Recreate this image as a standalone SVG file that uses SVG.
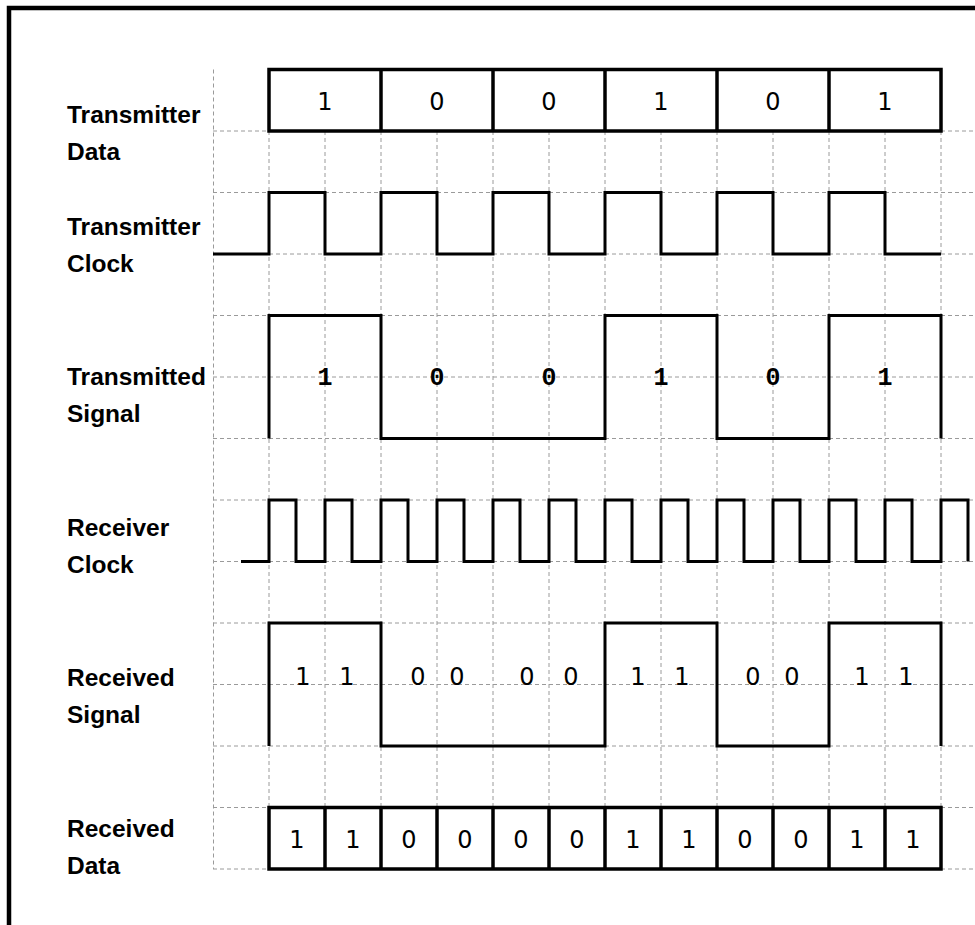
<svg xmlns="http://www.w3.org/2000/svg" width="975" height="925" viewBox="0 0 975 925">
<style>
.grid line{stroke:#9a9a9a;stroke-width:1;stroke-dasharray:4 3;fill:none}
.wave{fill:none;stroke:#000;stroke-width:3;stroke-linejoin:miter;stroke-linecap:butt}
.box{fill:#fff;stroke:#000;stroke-width:3.5}
.div{stroke:#000;stroke-width:3.5}
.lbl{font-family:"Liberation Sans",Arial,sans-serif;font-weight:bold;font-size:24.5px;fill:#000}
.dig{font-family:"DejaVu Sans","Liberation Sans",sans-serif;font-size:24px;fill:#000;text-anchor:middle}
.sdig{font-family:"Liberation Mono","Courier New",monospace;font-weight:bold;font-size:25px;fill:#000;text-anchor:middle}
</style>
<rect width="975" height="925" fill="#fff"/>
<g id="frame"><path d="M9,925 V8 H975" fill="none" stroke="#000" stroke-width="4.5"/></g>
<g id="grid" class="grid">
<line x1="213" y1="131" x2="975" y2="131"/>
<line x1="213" y1="192.5" x2="975" y2="192.5"/>
<line x1="213" y1="254" x2="975" y2="254"/>
<line x1="213" y1="315.5" x2="975" y2="315.5"/>
<line x1="213" y1="377" x2="975" y2="377"/>
<line x1="213" y1="438.5" x2="975" y2="438.5"/>
<line x1="213" y1="500" x2="975" y2="500"/>
<line x1="213" y1="561.5" x2="975" y2="561.5"/>
<line x1="213" y1="623" x2="975" y2="623"/>
<line x1="213" y1="684.5" x2="975" y2="684.5"/>
<line x1="213" y1="746" x2="975" y2="746"/>
<line x1="213" y1="807.5" x2="975" y2="807.5"/>
<line x1="213" y1="869" x2="975" y2="869"/>
<line x1="213.5" y1="69.5" x2="213.5" y2="869"/>
<line x1="269" y1="131" x2="269" y2="807.5"/>
<line x1="325" y1="131" x2="325" y2="807.5"/>
<line x1="381" y1="131" x2="381" y2="807.5"/>
<line x1="437" y1="131" x2="437" y2="807.5"/>
<line x1="493" y1="131" x2="493" y2="807.5"/>
<line x1="549" y1="131" x2="549" y2="807.5"/>
<line x1="605" y1="131" x2="605" y2="807.5"/>
<line x1="661" y1="131" x2="661" y2="807.5"/>
<line x1="717" y1="131" x2="717" y2="807.5"/>
<line x1="773" y1="131" x2="773" y2="807.5"/>
<line x1="829" y1="131" x2="829" y2="807.5"/>
<line x1="885" y1="131" x2="885" y2="807.5"/>
<line x1="941" y1="131" x2="941" y2="807.5"/>
</g>
<g id="connectors"></g>
<g id="transmitter-data">
<text class="lbl" x="67" y="123">Transmitter</text>
<text class="lbl" x="67" y="160">Data</text>
<rect class="box" x="269" y="69.5" width="672" height="61.5"/>
<line class="div" x1="381" y1="69.5" x2="381" y2="131"/>
<line class="div" x1="493" y1="69.5" x2="493" y2="131"/>
<line class="div" x1="605" y1="69.5" x2="605" y2="131"/>
<line class="div" x1="717" y1="69.5" x2="717" y2="131"/>
<line class="div" x1="829" y1="69.5" x2="829" y2="131"/>
<text class="dig" x="325" y="110">1</text>
<text class="dig" x="437" y="110">0</text>
<text class="dig" x="549" y="110">0</text>
<text class="dig" x="661" y="110">1</text>
<text class="dig" x="773" y="110">0</text>
<text class="dig" x="885" y="110">1</text>
</g>
<g id="transmitter-clock">
<text class="lbl" x="67" y="235">Transmitter</text>
<text class="lbl" x="67" y="272">Clock</text>
<path class="wave" d="M213,254 H269 V192.5 H325 V254 H381 V192.5 H437 V254 H493 V192.5 H549 V254 H605 V192.5 H661 V254 H717 V192.5 H773 V254 H829 V192.5 H885 V254 H941"/>
</g>
<g id="transmitted-signal">
<text class="lbl" x="67" y="385">Transmitted</text>
<text class="lbl" x="67" y="422">Signal</text>
<path class="wave" d="M269,438.5 V315.5 H381 V438.5 H605 V315.5 H717 V438.5 H829 V315.5 H941 V438.5"/>
<text class="sdig" x="325" y="385">1</text>
<text class="sdig" x="437" y="385">0</text>
<text class="sdig" x="549" y="385">0</text>
<text class="sdig" x="661" y="385">1</text>
<text class="sdig" x="773" y="385">0</text>
<text class="sdig" x="885" y="385">1</text>
</g>
<g id="receiver-clock">
<text class="lbl" x="67" y="536">Receiver</text>
<text class="lbl" x="67" y="573">Clock</text>
<path class="wave" d="M241,561.5 H269 V500 H296 V561.5 H325 V500 H352 V561.5 H381 V500 H408 V561.5 H437 V500 H464 V561.5 H493 V500 H520 V561.5 H549 V500 H576 V561.5 H605 V500 H632 V561.5 H661 V500 H688 V561.5 H717 V500 H744 V561.5 H773 V500 H800 V561.5 H829 V500 H856 V561.5 H885 V500 H912 V561.5 H941 V500 H968 V561.5"/>
</g>
<g id="received-signal">
<text class="lbl" x="67" y="686">Received</text>
<text class="lbl" x="67" y="723">Signal</text>
<path class="wave" d="M269,746 V623 H381 V746 H605 V623 H717 V746 H829 V623 H941 V746"/>
<text class="dig" x="303" y="685">1</text>
<text class="dig" x="347" y="685">1</text>
<text class="dig" x="418" y="685">0</text>
<text class="dig" x="457" y="685">0</text>
<text class="dig" x="527" y="685">0</text>
<text class="dig" x="571" y="685">0</text>
<text class="dig" x="638" y="685">1</text>
<text class="dig" x="682" y="685">1</text>
<text class="dig" x="753" y="685">0</text>
<text class="dig" x="792" y="685">0</text>
<text class="dig" x="862" y="685">1</text>
<text class="dig" x="906" y="685">1</text>
</g>
<g id="received-data">
<text class="lbl" x="67" y="837">Received</text>
<text class="lbl" x="67" y="874">Data</text>
<rect class="box" x="269" y="807.5" width="672" height="61.5"/>
<line class="div" x1="325" y1="807.5" x2="325" y2="869"/>
<line class="div" x1="381" y1="807.5" x2="381" y2="869"/>
<line class="div" x1="437" y1="807.5" x2="437" y2="869"/>
<line class="div" x1="493" y1="807.5" x2="493" y2="869"/>
<line class="div" x1="549" y1="807.5" x2="549" y2="869"/>
<line class="div" x1="605" y1="807.5" x2="605" y2="869"/>
<line class="div" x1="661" y1="807.5" x2="661" y2="869"/>
<line class="div" x1="717" y1="807.5" x2="717" y2="869"/>
<line class="div" x1="773" y1="807.5" x2="773" y2="869"/>
<line class="div" x1="829" y1="807.5" x2="829" y2="869"/>
<line class="div" x1="885" y1="807.5" x2="885" y2="869"/>
<text class="dig" x="297" y="848">1</text>
<text class="dig" x="353" y="848">1</text>
<text class="dig" x="409" y="848">0</text>
<text class="dig" x="465" y="848">0</text>
<text class="dig" x="521" y="848">0</text>
<text class="dig" x="577" y="848">0</text>
<text class="dig" x="633" y="848">1</text>
<text class="dig" x="689" y="848">1</text>
<text class="dig" x="745" y="848">0</text>
<text class="dig" x="801" y="848">0</text>
<text class="dig" x="857" y="848">1</text>
<text class="dig" x="913" y="848">1</text>
</g>
</svg>
